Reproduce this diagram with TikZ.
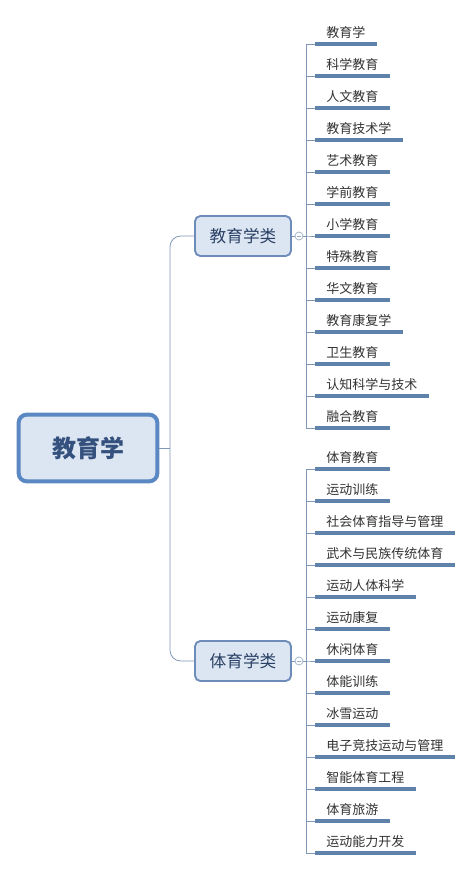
\documentclass[tikz,border=0pt]{standalone}
\usepackage{fontspec}
\setmainfont{Noto Sans CJK SC}
\definecolor{mmblue}{RGB}{91,135,195}
\definecolor{mmfill}{RGB}{220,230,243}
\definecolor{mmtext}{RGB}{52,80,125}
\definecolor{mmedge}{RGB}{110,140,185}
\definecolor{mmline}{RGB}{128,152,184}
\definecolor{mmbar}{RGB}{95,130,170}
\definecolor{mmgray}{RGB}{51,51,51}
\usetikzlibrary{positioning,calc}
\tikzset{
  rootbox/.style={draw=mmblue, fill=mmfill, line width=3pt, rounded corners=6pt, minimum width=104pt, minimum height=50pt, font=\fontsize{18pt}{20pt}\selectfont\bfseries, text=mmtext},
  catbox/.style={draw=mmedge, fill=mmfill, line width=1.4pt, rounded corners=4pt, minimum width=72pt, minimum height=30pt, font=\fontsize{12.5pt}{14pt}\selectfont, text=mmtext!80!black},
  fold/.style={circle, draw=mmline!80, fill=white, line width=0.5pt, inner sep=0pt, minimum size=6pt, path picture={\draw[mmline!80, line width=0.4pt] ([xshift=-1.8pt]path picture bounding box.center) -- ([xshift=1.8pt]path picture bounding box.center);}},
  leaf/.style={anchor=south west, inner xsep=8.25pt, inner ysep=4.5pt, text depth=0pt, font=\fontsize{9.75pt}{11pt}\selectfont, text=mmgray, append after command={(\tikzlastnode.south west) edge[bar] (\tikzlastnode.south east)}},
  bar/.style={draw=mmbar, line width=2.3pt},
  twig/.style={draw=mmline, line width=0.6pt},
}

\begin{document}
\begin{tikzpicture}[x=0.75pt, y=-0.75pt]
  \fill[white] (0,0) rectangle (473,870);
  \useasboundingbox (0,0) rectangle (473,870);

  \node[rootbox] (root) at (88,448) {教育学};
  \node[catbox] (b1) at (243,236) {教育学类};
  \node[catbox] (b2) at (243,661) {体育学类};

  % root to the two categories
  \coordinate (rj) at (170,448);
  \draw[twig] (root.east) -- (rj);
  \draw[twig, rounded corners=8pt] (rj) |- (b1.west);
  \draw[twig, rounded corners=8pt] (rj) |- (b2.west);

  % 教育学类
  \node[leaf] (a1) at (315,44) {教育学};
  \node[leaf] (a2) at (315,76) {科学教育};
  \node[leaf] (a3) at (315,108) {人文教育};
  \node[leaf] (a4) at (315,140) {教育技术学};
  \node[leaf] (a5) at (315,172) {艺术教育};
  \node[leaf] (a6) at (315,204) {学前教育};
  \node[leaf] (a7) at (315,236) {小学教育};
  \node[leaf] (a8) at (315,268) {特殊教育};
  \node[leaf] (a9) at (315,300) {华文教育};
  \node[leaf] (a10) at (315,332) {教育康复学};
  \node[leaf] (a11) at (315,364) {卫生教育};
  \node[leaf] (a12) at (315,396) {认知科学与技术};
  \node[leaf] (a13) at (315,428) {融合教育};

  % 体育学类
  \node[leaf] (p1) at (315,469) {体育教育};
  \node[leaf] (p2) at (315,501) {运动训练};
  \node[leaf] (p3) at (315,533) {社会体育指导与管理};
  \node[leaf] (p4) at (315,565) {武术与民族传统体育};
  \node[leaf] (p5) at (315,597) {运动人体科学};
  \node[leaf] (p6) at (315,629) {运动康复};
  \node[leaf] (p7) at (315,661) {休闲体育};
  \node[leaf] (p8) at (315,693) {体能训练};
  \node[leaf] (p9) at (315,725) {冰雪运动};
  \node[leaf] (p10) at (315,757) {电子竞技运动与管理};
  \node[leaf] (p11) at (315,789) {智能体育工程};
  \node[leaf] (p12) at (315,821) {体育旅游};
  \node[leaf] (p13) at (315,853) {运动能力开发};

  \node[fold] (c1) at (299,236) {};
  \node[fold] (c2) at (299,661) {};
  \draw[twig] (b1.east) -- (c1.west);
  \draw[twig] (b2.east) -- (c2.west);
  \foreach \i in {1,...,13} {
    \draw[twig] (c1.east) -- ++(3,0) |- (a\i.south west);
    \draw[twig] (c2.east) -- ++(3,0) |- (p\i.south west);
  }
\end{tikzpicture}
\end{document}
